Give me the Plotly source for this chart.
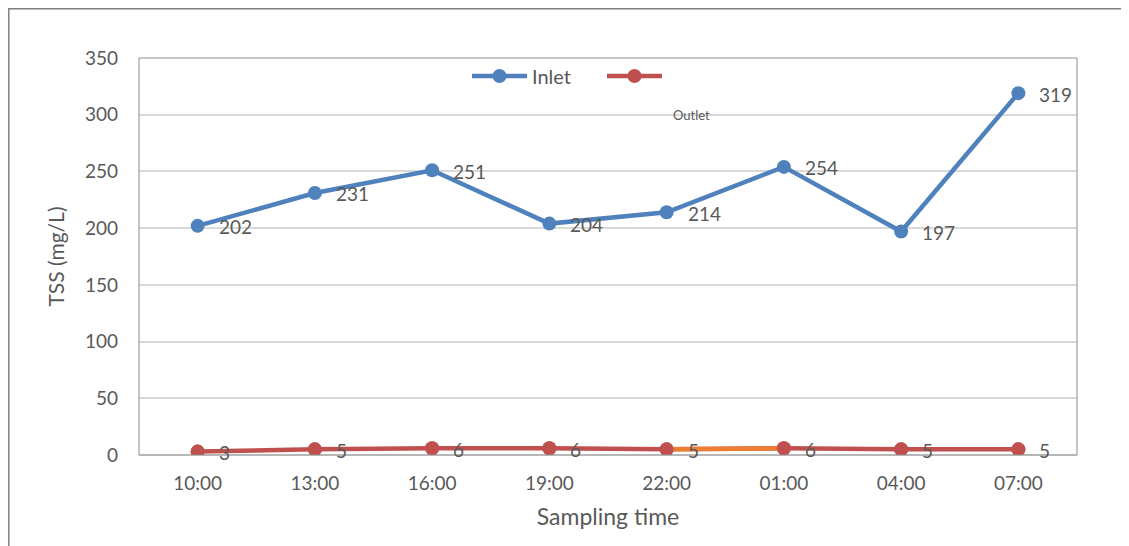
import plotly.graph_objects as go

categories = ["10:00", "13:00", "16:00", "19:00", "22:00", "01:00", "04:00", "07:00"]
inlet = [202, 231, 251, 204, 214, 254, 197, 319]
outlet = [3, 5, 6, 6, 5, 6, 5, 5]
y_ticks = [0, 50, 100, 150, 200, 250, 300, 350]

BLUE = "#4F81BD"
RED = "#C0504D"
ORANGE = "#ED7D31"
TXT = "#595959"
FONT = "Lato"

# page body has an 8px margin; plot area target: x 139..1077, y 58..455 on the page
PW, PH = 938, 397
OFF = 8

fig = go.Figure()
fig.add_trace(go.Scatter(x=categories, y=inlet, name="Inlet", mode="lines+markers",
                         line=dict(color=BLUE, width=4.5), marker=dict(size=14, color=BLUE)))
fig.add_trace(go.Scatter(x=categories, y=outlet, name=" ", mode="lines+markers",
                         line=dict(color=RED, width=4.5), marker=dict(size=14, color=RED)))
fig.add_trace(go.Scatter(x=categories[4:6], y=outlet[4:6], mode="lines", showlegend=False,
                         line=dict(color=ORANGE, width=4.5), hoverinfo="skip"))
fig.add_trace(go.Scatter(x=categories, y=outlet, mode="markers", showlegend=False,
                         marker=dict(size=14, color=RED), hoverinfo="skip"))

annotations = []
for series in (inlet, outlet):
    for c, v in zip(categories, series):
        annotations.append(dict(x=c, y=v, xref="x", yref="y", text=str(v), showarrow=False,
                                xanchor="left", yanchor="middle", xshift=19, yshift=-1,
                                font=dict(family=FONT, size=19, color=TXT)))
annotations.append(dict(x=(691 - 139) / PW, y=(455 - 115) / PH, xref="paper", yref="paper",
                        text="Outlet", showarrow=False, xanchor="center", yanchor="middle",
                        font=dict(family=FONT, size=13, color=TXT)))

shapes = [
    dict(type="rect", xref="paper", yref="paper", x0=0, x1=1, y0=0, y1=1,
         line=dict(color="#8C8C8C", width=1), layer="above"),
    dict(type="line", xref="paper", yref="paper", x0=0, x1=1, y0=0, y1=0,
         line=dict(color="#D9D9D9", width=1.5), layer="below"),
    dict(type="rect", xref="paper", yref="paper", x0=(OFF + 0.8 - 139) / PW, x1=1.2,
         y0=-0.4, y1=(455 - OFF - 0.8) / PH, line=dict(color="#7F7F7F", width=1.5)),
]

fig.update_layout(
    width=1129, height=546,
    margin=dict(l=139 - OFF, r=1129 + OFF - 1077, t=58 - OFF, b=546 + OFF - 455),
    paper_bgcolor="white", plot_bgcolor="white",
    font=dict(family=FONT, size=19, color=TXT),
    showlegend=True,
    legend=dict(orientation="h", x=(467 - 139) / PW, y=(455 - 76) / PH,
                xanchor="left", yanchor="middle", itemwidth=55,
                entrywidth=65, entrywidthmode="pixels",
                font=dict(family=FONT, size=20, color=TXT), bgcolor="rgba(0,0,0,0)"),
    xaxis=dict(type="category", categoryorder="array", categoryarray=categories,
               range=[-0.5, 7.5], showgrid=False, zeroline=False, showline=False,
               ticks="", ticklabelstandoff=15,
               title=dict(text="Sampling time", font=dict(family=FONT, size=23, color=TXT), standoff=15),
               tickfont=dict(family=FONT, size=19, color=TXT)),
    yaxis=dict(range=[0, 350], tickvals=y_ticks, showgrid=True, gridcolor="#D9D9D9", gridwidth=1.5,
               zeroline=False, showline=False, ticks="", ticklabelstandoff=20,
               title=dict(text="TSS (mg/L)", font=dict(family=FONT, size=21, color=TXT), standoff=14),
               tickfont=dict(family=FONT, size=19, color=TXT)),
    annotations=annotations,
    shapes=shapes,
)

fig.write_html("out.html")
